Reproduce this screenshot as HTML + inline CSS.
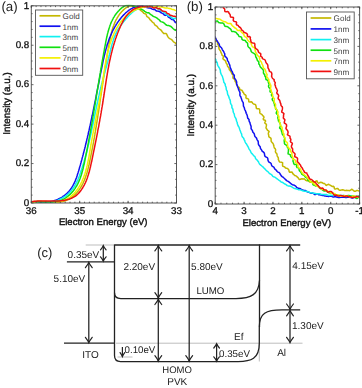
<!DOCTYPE html>
<html><head><meta charset="utf-8"><title>Figure</title>
<style>html,body{margin:0;padding:0;background:#fff;}body{width:362px;height:388px;overflow:hidden;font-family:"Liberation Sans", sans-serif;}svg{display:block;filter:blur(0.3px);}</style>
</head><body>
<svg text-rendering="geometricPrecision" width="362" height="388" viewBox="0 0 362 388" font-family='"Liberation Sans", sans-serif'><clipPath id="ca"><rect x="31.3" y="4.8" width="145.2" height="198.2"/></clipPath>
<g clip-path="url(#ca)" fill="none" stroke-width="1.5" stroke-linejoin="round" stroke-linecap="round">
<polyline points="31.5,202.0 32.5,201.8 33.5,201.6 34.5,201.5 35.5,201.4 36.5,201.3 37.5,201.3 38.5,201.2 39.5,201.3 40.5,201.3 41.5,201.3 42.5,201.4 43.5,201.4 44.5,201.5 45.5,201.5 46.5,201.6 47.5,201.7 48.5,201.7 49.5,201.8 50.5,201.9 51.5,201.9 52.5,202.0 53.5,202.0 54.5,202.0 55.5,202.0 56.5,202.0 57.5,202.0 58.5,201.9 59.5,201.8 60.5,201.7 61.5,201.6 62.5,201.4 63.5,201.2 64.5,200.9 65.4,200.7 66.4,200.3 67.3,199.9 68.2,199.5 69.1,199.0 70.0,198.5 70.8,198.0 71.6,197.4 72.4,196.8 73.2,196.2 74.0,195.5 74.7,194.9 75.4,194.2 76.1,193.4 76.8,192.7 77.4,191.9 78.1,191.1 78.7,190.4 79.3,189.5 79.9,188.7 80.4,187.9 80.9,187.0 81.5,186.2 81.9,185.3 82.4,184.4 82.9,183.5 83.3,182.6 83.7,181.7 84.1,180.8 84.5,179.9 84.9,178.9 85.2,178.0 85.6,177.0 85.9,176.1 86.2,175.1 86.5,174.2 86.8,173.2 87.1,172.3 87.4,171.3 87.6,170.3 87.9,169.4 88.1,168.4 88.4,167.4 88.6,166.4 88.8,165.5 89.1,164.5 89.3,163.5 89.5,162.5 89.7,161.5 89.9,160.5 90.1,159.6 90.3,158.6 90.5,157.6 90.7,156.6 90.9,155.6 91.1,154.6 91.3,153.7 91.5,152.7 91.7,151.7 91.9,150.7 92.1,149.7 92.3,148.7 92.5,147.8 92.6,146.8 92.8,145.8 93.0,144.8 93.2,143.8 93.4,142.8 93.6,141.8 93.7,140.8 93.9,139.9 94.1,138.9 94.3,137.9 94.4,136.9 94.6,135.9 94.8,134.9 94.9,133.9 95.1,132.9 95.3,131.9 95.4,131.0 95.6,130.0 95.8,129.0 95.9,128.0 96.1,127.0 96.3,126.0 96.4,125.0 96.6,124.0 96.7,123.0 96.9,122.0 97.1,121.0 97.2,120.1 97.4,119.1 97.5,118.1 97.7,117.1 97.8,116.1 98.0,115.1 98.1,114.1 98.3,113.1 98.5,112.1 98.6,111.1 98.8,110.1 98.9,109.1 99.1,108.2 99.2,107.2 99.4,106.2 99.5,105.2 99.7,104.2 99.8,103.2 99.9,102.2 100.1,101.2 100.2,100.2 100.4,99.2 100.5,98.2 100.7,97.2 100.8,96.2 101.0,95.2 101.1,94.3 101.3,93.3 101.4,92.3 101.6,91.3 101.7,90.3 101.9,89.3 102.0,88.3 102.2,87.3 102.3,86.3 102.5,85.3 102.6,84.3 102.8,83.3 102.9,82.3 103.1,81.4 103.2,80.4 103.4,79.4 103.5,78.4 103.7,77.4 103.8,76.4 104.0,75.4 104.1,74.4 104.3,73.4 104.4,72.4 104.6,71.4 104.7,70.4 104.9,69.4 105.0,68.5 105.2,67.5 105.3,66.5 105.5,65.5 105.7,64.5 105.8,63.5 106.0,62.5 106.1,61.5 106.3,60.5 106.5,59.5 106.6,58.5 106.8,57.6 106.9,56.6 107.1,55.6 107.3,54.6 107.4,53.6 107.6,52.6 107.8,51.6 107.9,50.6 108.1,49.6 108.3,48.6 108.5,47.7 108.6,46.7 108.8,45.7 109.0,44.7 109.2,43.7 109.3,42.7 109.5,41.7 109.7,40.7 109.9,39.8 110.1,38.8 110.3,37.8 110.5,36.8 110.7,35.8 110.9,34.8 111.2,33.9 111.4,32.9 111.7,31.9 111.9,31.0 112.2,30.0 112.5,29.0 112.8,28.1 113.1,27.1 113.4,26.2 113.8,25.2 114.1,24.3 114.5,23.4 114.9,22.4 115.3,21.5 115.7,20.6 116.2,19.7 116.7,18.8 117.1,18.0 117.7,17.1 118.2,16.2 118.8,15.4 119.3,14.6 119.9,13.8 120.6,13.0 121.2,12.2 121.9,11.5 122.6,10.8 123.3,10.1 124.0,9.4 124.8,8.7 125.6,8.1 126.4,7.5 127.3,7.0 128.2,6.6 129.1,6.3 130.1,6.1 131.1,6.0 132.1,6.1 133.1,6.3 134.1,6.6 135.0,6.9 135.9,7.4 136.8,7.8 137.7,8.3 138.5,8.8 139.4,9.4 140.2,9.9 141.0,10.6 141.7,11.2 142.6,11.8 143.2,12.6 143.9,13.4 144.9,13.7 145.9,14.2 146.4,15.1 146.7,16.2 147.4,16.9 148.3,17.4 149.1,18.1 149.6,19.0 150.2,19.8 151.0,20.4 151.7,21.2 152.3,22.0 153.1,22.6 154.0,23.1 154.4,24.1 154.9,25.0 155.8,25.5 156.7,26.1 157.4,26.8 157.9,27.7 158.6,28.4 159.4,29.0 160.3,29.6 161.1,30.2 161.7,31.0 162.3,31.9 162.9,32.6 163.6,33.4 164.8,33.6 166.1,33.6 166.8,34.3 167.2,35.4 167.7,36.4 168.2,37.2 168.9,38.0 169.7,38.6 170.7,39.0 171.6,39.6 172.2,40.3 172.9,41.1 173.5,41.9 174.4,42.4 175.3,42.9 176.0,43.7 176.6,44.4" stroke="#c4b800"/>
<polyline points="31.5,202.0 32.5,202.1 33.5,202.2 34.5,202.3 35.5,202.4 36.5,202.5 37.5,202.6 38.5,202.7 39.5,202.7 40.5,202.7 41.5,202.7 42.5,202.7 43.5,202.7 44.5,202.6 45.5,202.5 46.5,202.4 47.5,202.3 48.5,202.1 49.5,202.0 50.5,201.8 51.5,201.5 52.5,201.3 53.4,201.0 54.4,200.7 55.3,200.3 56.3,200.0 57.2,199.6 58.1,199.2 59.0,198.7 59.9,198.3 60.8,197.8 61.7,197.3 62.5,196.8 63.3,196.2 64.2,195.6 65.0,195.0 65.8,194.4 66.5,193.7 67.3,193.1 68.0,192.3 68.7,191.6 69.3,190.9 70.0,190.1 70.6,189.3 71.2,188.5 71.7,187.6 72.2,186.8 72.8,185.9 73.2,185.0 73.7,184.1 74.2,183.2 74.6,182.3 75.0,181.4 75.4,180.5 75.7,179.5 76.1,178.6 76.5,177.7 76.8,176.7 77.1,175.8 77.4,174.8 77.7,173.8 78.0,172.9 78.3,171.9 78.6,171.0 78.9,170.0 79.2,169.0 79.5,168.1 79.7,167.1 80.0,166.1 80.3,165.2 80.6,164.2 80.8,163.2 81.1,162.3 81.4,161.3 81.6,160.3 81.9,159.4 82.1,158.4 82.4,157.4 82.7,156.4 82.9,155.5 83.2,154.5 83.4,153.5 83.7,152.6 83.9,151.6 84.2,150.6 84.4,149.6 84.7,148.7 84.9,147.7 85.2,146.7 85.4,145.7 85.6,144.8 85.9,143.8 86.1,142.8 86.4,141.8 86.6,140.8 86.8,139.9 87.0,138.9 87.3,137.9 87.5,136.9 87.7,135.9 88.0,135.0 88.2,134.0 88.4,133.0 88.6,132.0 88.9,131.0 89.1,130.1 89.3,129.1 89.5,128.1 89.7,127.1 89.9,126.1 90.2,125.2 90.4,124.2 90.6,123.2 90.8,122.2 91.0,121.2 91.2,120.2 91.4,119.3 91.6,118.3 91.8,117.3 92.0,116.3 92.3,115.3 92.5,114.3 92.7,113.4 92.9,112.4 93.1,111.4 93.3,110.4 93.5,109.4 93.7,108.4 93.9,107.5 94.1,106.5 94.3,105.5 94.5,104.5 94.7,103.5 94.9,102.5 95.1,101.5 95.3,100.6 95.5,99.6 95.7,98.6 95.9,97.6 96.1,96.6 96.2,95.6 96.4,94.6 96.6,93.7 96.8,92.7 97.0,91.7 97.2,90.7 97.4,89.7 97.6,88.7 97.8,87.7 98.0,86.7 98.2,85.8 98.4,84.8 98.6,83.8 98.8,82.8 99.0,81.8 99.2,80.8 99.4,79.8 99.5,78.9 99.7,77.9 99.9,76.9 100.1,75.9 100.3,74.9 100.5,73.9 100.7,72.9 100.9,72.0 101.1,71.0 101.3,70.0 101.5,69.0 101.7,68.0 101.9,67.0 102.1,66.0 102.3,65.1 102.5,64.1 102.7,63.1 102.9,62.1 103.1,61.1 103.3,60.1 103.5,59.2 103.8,58.2 104.0,57.2 104.2,56.2 104.4,55.2 104.7,54.3 104.9,53.3 105.2,52.3 105.4,51.3 105.7,50.4 105.9,49.4 106.2,48.4 106.5,47.5 106.8,46.5 107.0,45.5 107.3,44.6 107.6,43.6 108.0,42.6 108.3,41.7 108.6,40.7 108.9,39.8 109.3,38.9 109.6,37.9 110.0,37.0 110.4,36.0 110.8,35.1 111.2,34.2 111.6,33.3 112.0,32.4 112.4,31.5 112.9,30.5 113.3,29.7 113.8,28.8 114.3,27.9 114.8,27.0 115.3,26.1 115.8,25.3 116.3,24.4 116.9,23.6 117.4,22.7 118.0,21.9 118.6,21.1 119.2,20.3 119.8,19.5 120.4,18.7 121.0,17.9 121.7,17.1 122.3,16.4 123.0,15.6 123.7,14.9 124.4,14.2 125.1,13.5 125.8,12.8 126.6,12.1 127.4,11.5 128.2,10.8 129.0,10.2 129.8,9.7 130.6,9.1 131.5,8.6 132.4,8.2 133.3,7.7 134.2,7.4 135.2,7.0 136.2,6.8 137.1,6.6 138.1,6.4 139.1,6.3 140.1,6.3 141.1,6.2 142.2,6.2 143.1,6.4 144.1,6.6 145.1,6.8 146.1,7.2 147.0,7.5 147.9,7.8 148.9,7.9 150.0,7.9 150.9,8.3 151.8,8.9 152.7,9.2 153.7,9.4 154.7,9.6 155.6,10.2 156.3,10.9 157.3,11.1 158.4,11.2 159.4,11.5 160.3,12.0 161.0,12.7 161.9,13.1 162.9,13.5 163.6,14.2 164.3,15.0 165.2,15.4 166.6,15.0 167.6,15.5 168.0,16.7 168.8,17.3 169.7,17.7 170.5,18.3 171.2,19.1 172.1,19.6 173.2,19.7 174.0,20.3 174.5,21.4 175.2,22.3 176.1,22.7" stroke="#1010f0"/>
<polyline points="31.5,201.9 32.5,202.2 33.5,202.4 34.4,202.6 35.4,202.8 36.4,202.9 37.4,203.0 38.4,203.1 39.4,203.2 40.4,203.2 41.4,203.3 42.4,203.3 43.4,203.2 44.4,203.2 45.4,203.1 46.4,203.0 47.4,202.9 48.4,202.7 49.4,202.6 50.4,202.4 51.4,202.2 52.4,201.9 53.3,201.7 54.3,201.4 55.3,201.1 56.2,200.8 57.1,200.4 58.1,200.1 59.0,199.7 59.9,199.3 60.8,198.8 61.7,198.4 62.6,197.9 63.5,197.4 64.3,196.8 65.1,196.3 66.0,195.7 66.7,195.1 67.5,194.4 68.3,193.8 69.0,193.1 69.7,192.4 70.4,191.7 71.1,190.9 71.7,190.1 72.3,189.3 72.9,188.5 73.5,187.7 74.1,186.9 74.6,186.0 75.1,185.1 75.6,184.3 76.0,183.4 76.5,182.5 76.9,181.6 77.4,180.7 77.8,179.8 78.2,178.8 78.5,177.9 78.9,177.0 79.3,176.0 79.6,175.1 80.0,174.1 80.3,173.2 80.6,172.3 80.9,171.3 81.3,170.4 81.6,169.4 81.9,168.4 82.2,167.5 82.5,166.5 82.8,165.6 83.1,164.6 83.4,163.6 83.7,162.7 84.0,161.7 84.2,160.8 84.5,159.8 84.8,158.8 85.1,157.9 85.3,156.9 85.6,155.9 85.8,155.0 86.1,154.0 86.4,153.0 86.6,152.0 86.9,151.1 87.1,150.1 87.4,149.1 87.6,148.2 87.8,147.2 88.1,146.2 88.3,145.2 88.6,144.3 88.8,143.3 89.0,142.3 89.2,141.3 89.5,140.3 89.7,139.4 89.9,138.4 90.1,137.4 90.3,136.4 90.6,135.4 90.8,134.5 91.0,133.5 91.2,132.5 91.4,131.5 91.6,130.5 91.8,129.6 92.0,128.6 92.3,127.6 92.5,126.6 92.7,125.6 92.9,124.6 93.1,123.7 93.3,122.7 93.5,121.7 93.7,120.7 93.9,119.7 94.1,118.7 94.3,117.8 94.5,116.8 94.7,115.8 94.9,114.8 95.1,113.8 95.3,112.8 95.5,111.9 95.7,110.9 95.9,109.9 96.1,108.9 96.3,107.9 96.5,106.9 96.7,106.0 96.9,105.0 97.1,104.0 97.3,103.0 97.6,102.0 97.8,101.1 98.0,100.1 98.2,99.1 98.4,98.1 98.6,97.1 98.8,96.2 99.1,95.2 99.3,94.2 99.5,93.2 99.7,92.2 99.9,91.3 100.2,90.3 100.4,89.3 100.6,88.3 100.9,87.3 101.1,86.4 101.3,85.4 101.6,84.4 101.8,83.4 102.1,82.5 102.3,81.5 102.6,80.5 102.8,79.6 103.1,78.6 103.3,77.6 103.6,76.7 103.9,75.7 104.1,74.7 104.4,73.7 104.7,72.8 104.9,71.8 105.2,70.8 105.5,69.9 105.7,68.9 106.0,67.9 106.3,67.0 106.6,66.0 106.8,65.0 107.1,64.1 107.3,63.1 107.6,62.1 107.9,61.2 108.1,60.2 108.3,59.2 108.6,58.2 108.8,57.3 109.0,56.3 109.3,55.3 109.5,54.3 109.7,53.4 110.0,52.4 110.2,51.4 110.4,50.4 110.7,49.5 110.9,48.5 111.2,47.5 111.4,46.5 111.7,45.6 111.9,44.6 112.2,43.6 112.5,42.7 112.8,41.7 113.1,40.8 113.4,39.8 113.7,38.8 114.1,37.9 114.4,37.0 114.8,36.0 115.2,35.1 115.6,34.2 116.0,33.3 116.5,32.4 116.9,31.5 117.4,30.6 117.9,29.7 118.4,28.9 119.0,28.0 119.5,27.2 120.1,26.4 120.7,25.5 121.3,24.7 121.9,23.9 122.5,23.1 123.1,22.4 123.7,21.6 124.4,20.8 125.0,20.0 125.6,19.2 126.3,18.5 127.0,17.7 127.6,17.0 128.3,16.2 129.0,15.5 129.7,14.8 130.4,14.1 131.1,13.4 131.9,12.7 132.6,12.1 133.4,11.4 134.2,10.8 135.1,10.3 135.9,9.8 136.8,9.3 137.7,8.8 138.6,8.4 139.6,8.1 140.5,7.7 141.4,7.4 142.4,7.1 143.4,6.9 144.4,6.7 145.4,6.7 146.4,6.6 147.4,6.8 148.4,6.9 149.4,6.5 150.5,6.1 151.5,6.2 152.5,6.7 153.4,7.2 154.4,7.2 155.4,7.6 156.3,8.0 157.3,8.3 158.2,8.7 159.0,9.4 159.8,10.0 160.7,10.4 161.5,11.0 162.5,11.4 163.3,11.9 164.1,12.5 165.0,13.1 165.8,13.7 166.5,14.4 167.2,15.2 168.1,15.7 169.0,16.1 169.9,16.5 170.9,16.8 171.7,17.6 172.4,18.4 173.5,18.5 174.6,18.3 175.6,18.4 176.6,18.7" stroke="#10f0f0"/>
<polyline points="31.5,202.0 32.5,201.9 33.5,201.8 34.5,201.7 35.5,201.7 36.5,201.7 37.5,201.7 38.5,201.7 39.5,201.7 40.5,201.8 41.5,201.8 42.5,201.8 43.5,201.9 44.5,201.9 45.5,202.0 46.5,202.0 47.5,202.0 48.5,202.0 49.6,202.0 50.6,202.0 51.6,202.0 52.6,201.9 53.6,201.8 54.6,201.7 55.6,201.6 56.5,201.4 57.5,201.2 58.5,201.0 59.5,200.8 60.4,200.4 61.4,200.1 62.3,199.7 63.2,199.3 64.1,198.8 65.0,198.3 65.8,197.8 66.6,197.2 67.5,196.6 68.2,196.0 69.0,195.3 69.8,194.7 70.5,194.0 71.2,193.3 71.9,192.5 72.5,191.8 73.2,191.0 73.8,190.2 74.4,189.4 75.0,188.6 75.5,187.7 76.0,186.9 76.6,186.0 77.1,185.2 77.5,184.3 78.0,183.4 78.4,182.5 78.8,181.6 79.2,180.6 79.6,179.7 80.0,178.8 80.3,177.8 80.7,176.9 81.0,175.9 81.3,175.0 81.6,174.0 81.9,173.1 82.1,172.1 82.4,171.1 82.7,170.2 82.9,169.2 83.2,168.2 83.4,167.2 83.6,166.2 83.8,165.3 84.1,164.3 84.3,163.3 84.5,162.3 84.7,161.3 84.9,160.4 85.1,159.4 85.3,158.4 85.5,157.4 85.7,156.4 85.9,155.4 86.1,154.5 86.3,153.5 86.5,152.5 86.7,151.5 86.9,150.5 87.1,149.5 87.3,148.6 87.4,147.6 87.6,146.6 87.8,145.6 88.0,144.6 88.2,143.6 88.4,142.6 88.6,141.6 88.7,140.7 88.9,139.7 89.1,138.7 89.3,137.7 89.5,136.7 89.7,135.7 89.8,134.7 90.0,133.7 90.2,132.8 90.4,131.8 90.5,130.8 90.7,129.8 90.9,128.8 91.1,127.8 91.2,126.8 91.4,125.8 91.6,124.9 91.8,123.9 91.9,122.9 92.1,121.9 92.3,120.9 92.4,119.9 92.6,118.9 92.8,117.9 92.9,116.9 93.1,115.9 93.3,115.0 93.5,114.0 93.6,113.0 93.8,112.0 93.9,111.0 94.1,110.0 94.3,109.0 94.4,108.0 94.6,107.0 94.8,106.0 94.9,105.1 95.1,104.1 95.3,103.1 95.4,102.1 95.6,101.1 95.8,100.1 95.9,99.1 96.1,98.1 96.3,97.1 96.4,96.1 96.6,95.2 96.7,94.2 96.9,93.2 97.1,92.2 97.2,91.2 97.4,90.2 97.6,89.2 97.7,88.2 97.9,87.2 98.0,86.2 98.2,85.2 98.4,84.3 98.5,83.3 98.7,82.3 98.9,81.3 99.0,80.3 99.2,79.3 99.4,78.3 99.5,77.3 99.7,76.3 99.9,75.3 100.0,74.4 100.2,73.4 100.4,72.4 100.5,71.4 100.7,70.4 100.9,69.4 101.0,68.4 101.2,67.4 101.4,66.4 101.6,65.5 101.7,64.5 101.9,63.5 102.1,62.5 102.2,61.5 102.4,60.5 102.6,59.5 102.8,58.5 102.9,57.5 103.1,56.6 103.3,55.6 103.5,54.6 103.6,53.6 103.8,52.6 104.0,51.6 104.2,50.6 104.4,49.6 104.5,48.7 104.7,47.7 104.9,46.7 105.1,45.7 105.3,44.7 105.5,43.7 105.7,42.7 105.8,41.7 106.0,40.8 106.2,39.8 106.4,38.8 106.6,37.8 106.9,36.8 107.1,35.9 107.3,34.9 107.5,33.9 107.8,32.9 108.0,32.0 108.3,31.0 108.6,30.0 108.9,29.1 109.2,28.1 109.5,27.1 109.8,26.2 110.1,25.2 110.5,24.3 110.8,23.4 111.2,22.4 111.6,21.5 112.1,20.6 112.5,19.7 113.0,18.8 113.4,17.9 114.0,17.1 114.5,16.2 115.0,15.4 115.6,14.5 116.2,13.7 116.8,12.9 117.4,12.2 118.1,11.4 118.8,10.7 119.5,9.9 120.2,9.2 120.9,8.6 121.7,7.9 122.5,7.3 123.3,6.8 124.2,6.3 125.1,5.9 126.1,5.5 127.0,5.3 128.0,5.2 129.0,5.1 130.0,5.2 131.0,5.3 132.0,5.5 133.0,5.7 134.0,6.0 134.9,6.3 135.8,6.7 136.8,7.1 137.7,7.5 138.6,8.0 139.5,8.4 140.4,8.8 141.3,9.2 142.2,9.7 143.1,10.2 143.9,10.7 144.7,11.3 145.6,11.8 146.4,12.4 147.4,12.8 148.6,12.7 149.4,13.3 150.1,14.1 150.9,14.7 151.8,15.2 152.6,15.8 153.4,16.4 154.3,16.8 155.3,17.1 156.2,17.6 157.0,18.1 157.8,18.8 158.6,19.4 159.4,20.0 160.0,20.9 160.8,21.6 161.8,21.9 162.8,22.2 163.6,22.7 164.5,23.3 165.2,24.1 165.9,24.8 166.8,25.2 167.9,25.5 168.9,25.6 169.9,26.0 170.8,26.4 171.6,27.1 172.3,27.8 173.0,28.5 173.8,29.2 174.6,29.8 175.5,30.3 176.5,30.6" stroke="#10e010"/>
<polyline points="31.5,202.0 32.4,202.3 33.4,202.5 34.4,202.8 35.3,203.0 36.3,203.2 37.3,203.4 38.3,203.6 39.3,203.7 40.3,203.8 41.3,203.9 42.3,204.0 43.3,204.1 44.3,204.1 45.3,204.1 46.3,204.1 47.3,204.1 48.3,204.1 49.3,204.0 50.3,203.9 51.3,203.8 52.3,203.7 53.3,203.6 54.3,203.4 55.3,203.2 56.3,203.0 57.2,202.8 58.2,202.5 59.2,202.2 60.1,201.9 61.1,201.6 62.0,201.3 63.0,200.9 63.9,200.5 64.8,200.1 65.7,199.6 66.6,199.1 67.5,198.6 68.3,198.1 69.1,197.6 70.0,197.0 70.8,196.4 71.5,195.7 72.3,195.1 73.0,194.4 73.7,193.7 74.4,192.9 75.1,192.2 75.7,191.4 76.4,190.6 77.0,189.8 77.6,189.0 78.1,188.2 78.7,187.4 79.2,186.5 79.7,185.6 80.2,184.8 80.7,183.9 81.1,183.0 81.6,182.1 82.0,181.2 82.4,180.2 82.8,179.3 83.2,178.4 83.6,177.5 83.9,176.5 84.3,175.6 84.6,174.6 84.9,173.7 85.2,172.7 85.5,171.8 85.8,170.8 86.1,169.8 86.3,168.9 86.6,167.9 86.8,166.9 87.1,165.9 87.3,165.0 87.5,164.0 87.7,163.0 87.9,162.0 88.1,161.0 88.3,160.0 88.5,159.1 88.7,158.1 88.9,157.1 89.1,156.1 89.2,155.1 89.4,154.1 89.6,153.1 89.7,152.1 89.9,151.1 90.1,150.2 90.2,149.2 90.4,148.2 90.6,147.2 90.7,146.2 90.9,145.2 91.1,144.2 91.2,143.2 91.4,142.2 91.6,141.2 91.8,140.3 91.9,139.3 92.1,138.3 92.3,137.3 92.5,136.3 92.7,135.3 92.8,134.3 93.0,133.3 93.2,132.4 93.4,131.4 93.6,130.4 93.8,129.4 94.0,128.4 94.2,127.4 94.4,126.4 94.6,125.5 94.8,124.5 95.0,123.5 95.2,122.5 95.3,121.5 95.5,120.5 95.7,119.5 95.9,118.6 96.1,117.6 96.3,116.6 96.5,115.6 96.7,114.6 96.9,113.6 97.1,112.6 97.3,111.7 97.5,110.7 97.7,109.7 97.9,108.7 98.1,107.7 98.3,106.7 98.5,105.7 98.7,104.8 98.9,103.8 99.0,102.8 99.2,101.8 99.4,100.8 99.6,99.8 99.8,98.8 100.0,97.9 100.2,96.9 100.3,95.9 100.5,94.9 100.7,93.9 100.9,92.9 101.0,91.9 101.2,90.9 101.4,89.9 101.5,88.9 101.7,88.0 101.9,87.0 102.0,86.0 102.2,85.0 102.3,84.0 102.5,83.0 102.6,82.0 102.8,81.0 102.9,80.0 103.1,79.0 103.2,78.0 103.4,77.0 103.5,76.0 103.7,75.0 103.8,74.1 103.9,73.1 104.1,72.1 104.2,71.1 104.4,70.1 104.6,69.1 104.7,68.1 104.9,67.1 105.0,66.1 105.2,65.1 105.4,64.1 105.5,63.1 105.7,62.2 105.9,61.2 106.1,60.2 106.3,59.2 106.5,58.2 106.7,57.2 106.9,56.2 107.1,55.3 107.3,54.3 107.5,53.3 107.7,52.3 108.0,51.3 108.2,50.4 108.5,49.4 108.7,48.4 109.0,47.5 109.3,46.5 109.5,45.5 109.8,44.6 110.1,43.6 110.4,42.6 110.8,41.7 111.1,40.7 111.4,39.8 111.8,38.9 112.1,37.9 112.5,37.0 112.9,36.1 113.3,35.1 113.7,34.2 114.1,33.3 114.5,32.4 115.0,31.5 115.4,30.6 115.9,29.7 116.3,28.8 116.8,27.9 117.3,27.1 117.9,26.2 118.4,25.3 118.9,24.5 119.5,23.7 120.1,22.8 120.7,22.0 121.3,21.2 121.9,20.5 122.5,19.7 123.2,18.9 123.9,18.2 124.6,17.5 125.3,16.8 126.0,16.1 126.8,15.4 127.5,14.8 128.3,14.1 129.1,13.5 130.0,13.0 130.8,12.4 131.6,11.9 132.5,11.4 133.4,10.9 134.3,10.4 135.2,10.0 136.1,9.6 137.0,9.2 138.0,8.9 138.9,8.5 139.9,8.1 140.8,7.8 141.8,7.5 142.8,7.3 143.8,7.2 144.8,7.0 145.7,6.7 146.7,6.5 147.7,6.5 148.7,6.2 149.7,6.2 150.8,6.5 151.8,6.8 152.8,6.9 153.8,6.9 154.8,6.8 155.8,6.8 156.8,6.5 157.8,6.5 158.8,6.8 159.8,6.9 160.8,7.0 161.8,7.1 162.8,7.2 163.7,7.5 164.7,7.9 165.7,8.0 166.7,7.9 167.7,8.1 168.7,8.4 169.7,8.5 170.7,8.7 171.6,9.2 172.6,9.4 173.6,9.6 174.5,10.0 175.4,10.4 176.4,10.7" stroke="#f4f000"/>
<polyline points="31.5,201.7 32.5,201.6 33.5,201.4 34.5,201.3 35.5,201.2 36.5,201.2 37.5,201.1 38.6,201.1 39.6,201.0 40.6,201.0 41.6,201.0 42.6,201.0 43.6,201.0 44.6,201.0 45.6,201.0 46.6,201.0 47.6,201.1 48.6,201.1 49.6,201.1 50.6,201.1 51.6,201.1 52.6,201.1 53.6,201.1 54.7,201.1 55.7,201.1 56.7,201.0 57.7,201.0 58.7,200.9 59.7,200.9 60.7,200.8 61.7,200.7 62.7,200.5 63.7,200.4 64.7,200.2 65.7,200.0 66.6,199.8 67.6,199.5 68.6,199.3 69.5,199.0 70.5,198.6 71.4,198.3 72.3,197.8 73.2,197.4 74.1,196.9 75.0,196.4 75.8,195.8 76.6,195.2 77.3,194.5 78.1,193.8 78.8,193.1 79.4,192.3 80.1,191.6 80.7,190.8 81.3,189.9 81.8,189.1 82.4,188.3 82.9,187.4 83.4,186.5 83.9,185.7 84.4,184.8 84.8,183.9 85.3,183.0 85.7,182.0 86.1,181.1 86.5,180.2 86.8,179.2 87.2,178.3 87.5,177.4 87.8,176.4 88.1,175.4 88.4,174.5 88.7,173.5 89.0,172.6 89.3,171.6 89.5,170.6 89.8,169.6 90.0,168.7 90.2,167.7 90.5,166.7 90.7,165.7 90.9,164.7 91.1,163.8 91.3,162.8 91.6,161.8 91.8,160.8 92.0,159.8 92.2,158.8 92.4,157.8 92.6,156.9 92.8,155.9 93.0,154.9 93.2,153.9 93.4,152.9 93.6,151.9 93.8,150.9 94.0,150.0 94.2,149.0 94.4,148.0 94.6,147.0 94.8,146.0 95.0,145.0 95.2,144.0 95.4,143.1 95.6,142.1 95.8,141.1 96.0,140.1 96.2,139.1 96.4,138.1 96.6,137.1 96.8,136.1 97.0,135.2 97.2,134.2 97.4,133.2 97.6,132.2 97.7,131.2 97.9,130.2 98.1,129.2 98.3,128.2 98.5,127.3 98.7,126.3 98.9,125.3 99.0,124.3 99.2,123.3 99.4,122.3 99.6,121.3 99.8,120.3 99.9,119.3 100.1,118.3 100.3,117.4 100.5,116.4 100.7,115.4 100.8,114.4 101.0,113.4 101.2,112.4 101.3,111.4 101.5,110.4 101.7,109.4 101.8,108.4 102.0,107.4 102.2,106.4 102.3,105.5 102.5,104.5 102.7,103.5 102.8,102.5 103.0,101.5 103.1,100.5 103.3,99.5 103.4,98.5 103.6,97.5 103.8,96.5 103.9,95.5 104.1,94.5 104.2,93.5 104.4,92.5 104.5,91.5 104.7,90.5 104.8,89.5 105.0,88.5 105.1,87.6 105.3,86.6 105.4,85.6 105.6,84.6 105.7,83.6 105.9,82.6 106.0,81.6 106.2,80.6 106.3,79.6 106.5,78.6 106.7,77.6 106.8,76.6 107.0,75.6 107.2,74.6 107.3,73.6 107.5,72.6 107.7,71.7 107.8,70.7 108.0,69.7 108.2,68.7 108.4,67.7 108.6,66.7 108.8,65.7 108.9,64.7 109.1,63.7 109.3,62.8 109.5,61.8 109.7,60.8 110.0,59.8 110.2,58.8 110.4,57.8 110.6,56.9 110.8,55.9 111.1,54.9 111.3,53.9 111.5,52.9 111.8,52.0 112.0,51.0 112.3,50.0 112.5,49.0 112.8,48.1 113.1,47.1 113.3,46.1 113.6,45.2 113.9,44.2 114.2,43.2 114.5,42.3 114.8,41.3 115.1,40.4 115.4,39.4 115.7,38.4 116.1,37.5 116.4,36.5 116.7,35.6 117.1,34.7 117.4,33.7 117.8,32.8 118.2,31.8 118.5,30.9 118.9,30.0 119.3,29.0 119.7,28.1 120.1,27.2 120.5,26.3 120.9,25.3 121.4,24.4 121.8,23.5 122.3,22.6 122.7,21.8 123.2,20.9 123.7,20.0 124.2,19.1 124.8,18.3 125.3,17.5 125.9,16.6 126.5,15.8 127.2,15.0 127.8,14.3 128.5,13.5 129.2,12.8 129.9,12.1 130.7,11.5 131.5,10.8 132.3,10.2 133.1,9.7 134.0,9.2 134.9,8.7 135.8,8.3 136.7,7.9 137.7,7.6 138.6,7.3 139.6,7.0 140.6,6.8 141.6,6.5 142.6,6.4 143.6,6.6 144.6,6.7 145.6,6.6 146.6,6.6 147.6,6.9 148.6,6.8 149.6,6.5 150.6,6.6 151.6,6.9 152.6,7.4 153.5,7.9 154.4,8.1 155.6,7.6 156.7,7.6 157.4,8.6 158.4,8.8 159.5,8.6 160.4,9.1 161.2,9.9 161.9,10.7 162.8,11.2 163.8,11.3 164.8,11.6 165.9,11.8 166.6,12.6 167.2,13.6 168.3,13.7 169.2,14.1 169.8,15.0 170.7,15.5 171.8,15.6 172.7,16.0 173.7,16.3 174.9,16.2 175.7,16.6 176.5,17.5" stroke="#f01010"/>
</g>
<rect x="31.3" y="5.8" width="145.2" height="197.2" fill="none" stroke="#555" stroke-width="1"/>
<path d="M31.30,203.0 v-1.3 M31.30,5.8 v1.3 M36.14,203.0 v-1.3 M36.14,5.8 v1.3 M40.98,203.0 v-1.3 M40.98,5.8 v1.3 M45.82,203.0 v-1.3 M45.82,5.8 v1.3 M50.66,203.0 v-1.3 M50.66,5.8 v1.3 M55.50,203.0 v-1.3 M55.50,5.8 v1.3 M60.34,203.0 v-1.3 M60.34,5.8 v1.3 M65.18,203.0 v-1.3 M65.18,5.8 v1.3 M70.02,203.0 v-1.3 M70.02,5.8 v1.3 M74.86,203.0 v-1.3 M74.86,5.8 v1.3 M79.70,203.0 v-1.3 M79.70,5.8 v1.3 M84.54,203.0 v-1.3 M84.54,5.8 v1.3 M89.38,203.0 v-1.3 M89.38,5.8 v1.3 M94.22,203.0 v-1.3 M94.22,5.8 v1.3 M99.06,203.0 v-1.3 M99.06,5.8 v1.3 M103.90,203.0 v-1.3 M103.90,5.8 v1.3 M108.74,203.0 v-1.3 M108.74,5.8 v1.3 M113.58,203.0 v-1.3 M113.58,5.8 v1.3 M118.42,203.0 v-1.3 M118.42,5.8 v1.3 M123.26,203.0 v-1.3 M123.26,5.8 v1.3 M128.10,203.0 v-1.3 M128.10,5.8 v1.3 M132.94,203.0 v-1.3 M132.94,5.8 v1.3 M137.78,203.0 v-1.3 M137.78,5.8 v1.3 M142.62,203.0 v-1.3 M142.62,5.8 v1.3 M147.46,203.0 v-1.3 M147.46,5.8 v1.3 M152.30,203.0 v-1.3 M152.30,5.8 v1.3 M157.14,203.0 v-1.3 M157.14,5.8 v1.3 M161.98,203.0 v-1.3 M161.98,5.8 v1.3 M166.82,203.0 v-1.3 M166.82,5.8 v1.3 M171.66,203.0 v-1.3 M171.66,5.8 v1.3 M176.50,203.0 v-1.3 M176.50,5.8 v1.3 M31.30,203.0 v-2.2 M31.30,5.8 v2.2 M79.70,203.0 v-2.2 M79.70,5.8 v2.2 M128.10,203.0 v-2.2 M128.10,5.8 v2.2 M176.50,203.0 v-2.2 M176.50,5.8 v2.2 M31.3,203.00 h2.2 M176.5,203.00 h-2.2 M31.3,195.11 h1.3 M176.5,195.11 h-1.3 M31.3,187.22 h1.3 M176.5,187.22 h-1.3 M31.3,179.34 h1.3 M176.5,179.34 h-1.3 M31.3,171.45 h1.3 M176.5,171.45 h-1.3 M31.3,163.56 h2.2 M176.5,163.56 h-2.2 M31.3,155.67 h1.3 M176.5,155.67 h-1.3 M31.3,147.78 h1.3 M176.5,147.78 h-1.3 M31.3,139.90 h1.3 M176.5,139.90 h-1.3 M31.3,132.01 h1.3 M176.5,132.01 h-1.3 M31.3,124.12 h2.2 M176.5,124.12 h-2.2 M31.3,116.23 h1.3 M176.5,116.23 h-1.3 M31.3,108.34 h1.3 M176.5,108.34 h-1.3 M31.3,100.46 h1.3 M176.5,100.46 h-1.3 M31.3,92.57 h1.3 M176.5,92.57 h-1.3 M31.3,84.68 h2.2 M176.5,84.68 h-2.2 M31.3,76.79 h1.3 M176.5,76.79 h-1.3 M31.3,68.90 h1.3 M176.5,68.90 h-1.3 M31.3,61.02 h1.3 M176.5,61.02 h-1.3 M31.3,53.13 h1.3 M176.5,53.13 h-1.3 M31.3,45.24 h2.2 M176.5,45.24 h-2.2 M31.3,37.35 h1.3 M176.5,37.35 h-1.3 M31.3,29.46 h1.3 M176.5,29.46 h-1.3 M31.3,21.58 h1.3 M176.5,21.58 h-1.3 M31.3,13.69 h1.3 M176.5,13.69 h-1.3 M31.3,5.80 h2.2 M176.5,5.80 h-2.2" stroke="#444" stroke-width="0.8" fill="none"/>
<rect x="35.5" y="10.0" width="47.2" height="65.3" fill="#fff" stroke="#555" stroke-width="0.9"/>
<line x1="39.5" y1="15.8" x2="60.5" y2="15.8" stroke="#c4b800" stroke-width="1.7"/>
<text x="62.6" y="19.1" font-size="8.1" fill="#444">Gold</text>
<line x1="39.5" y1="26.2" x2="60.5" y2="26.2" stroke="#1010f0" stroke-width="1.7"/>
<text x="62.6" y="29.5" font-size="8.1" fill="#444">1nm</text>
<line x1="39.5" y1="36.6" x2="60.5" y2="36.6" stroke="#10f0f0" stroke-width="1.7"/>
<text x="62.6" y="39.9" font-size="8.1" fill="#444">3nm</text>
<line x1="39.5" y1="47.3" x2="60.5" y2="47.3" stroke="#10e010" stroke-width="1.7"/>
<text x="62.6" y="50.6" font-size="8.1" fill="#444">5nm</text>
<line x1="39.5" y1="57.9" x2="60.5" y2="57.9" stroke="#f4f000" stroke-width="1.7"/>
<text x="62.6" y="61.2" font-size="8.1" fill="#444">7nm</text>
<line x1="39.5" y1="68.5" x2="60.5" y2="68.5" stroke="#f01010" stroke-width="1.7"/>
<text x="62.6" y="71.8" font-size="8.1" fill="#444">9nm</text>
<clipPath id="cb"><rect x="215.2" y="6.0" width="144.40000000000003" height="198.0"/></clipPath>
<g clip-path="url(#cb)" fill="none" stroke-width="1.5" stroke-linejoin="round" stroke-linecap="round">
<polyline points="214.5,40.1 215.1,41.0 216.4,41.4 217.6,42.0 217.6,43.1 217.5,44.3 218.4,45.0 218.9,45.8 218.8,47.0 218.9,48.0 219.1,49.0 219.7,49.9 220.4,50.7 220.7,51.6 221.0,52.6 221.5,53.5 221.9,54.4 222.1,55.4 223.2,56.0 223.6,56.9 222.9,58.4 223.3,59.3 224.3,59.9 225.2,60.6 225.8,61.5 225.9,62.5 226.4,63.4 227.1,64.2 227.3,65.2 227.6,66.2 228.2,67.0 228.9,67.8 229.2,68.8 229.3,69.8 230.1,70.5 230.7,71.4 231.2,72.2 231.6,73.1 232.1,74.1 232.9,74.7 233.2,75.7 232.9,77.0 233.0,78.1 233.8,78.8 234.6,79.5 235.0,80.5 235.2,81.5 235.8,82.3 236.3,83.2 236.4,84.3 237.0,85.1 237.6,86.0 238.1,86.8 239.1,87.4 239.6,88.3 239.7,89.4 240.6,90.0 242.0,90.3 242.5,91.1 242.9,92.1 243.6,92.8 243.9,93.8 244.6,94.5 245.6,95.0 246.1,95.9 245.9,97.4 246.3,98.4 247.5,98.6 248.5,99.1 248.7,100.3 248.8,101.7 249.9,102.0 251.5,101.7 252.2,102.4 252.7,103.3 253.5,104.0 254.6,104.2 255.5,104.6 255.9,105.8 256.2,106.9 256.3,108.1 257.0,108.8 258.7,108.7 259.6,109.3 259.7,110.4 259.9,111.5 259.7,112.7 260.3,113.6 261.4,114.1 262.2,114.8 262.7,115.7 263.7,116.4 264.0,117.4 263.2,118.8 263.5,119.7 265.1,120.2 265.6,121.1 264.8,122.5 265.1,123.4 266.2,124.1 266.5,125.0 266.3,126.2 266.0,127.3 266.2,128.3 266.9,129.2 267.4,130.1 268.4,130.8 269.1,131.6 268.4,132.9 268.3,134.0 268.7,134.9 268.7,136.0 269.0,136.9 270.1,137.6 271.0,138.4 271.1,139.4 271.1,140.5 271.3,141.5 271.9,142.3 272.7,143.1 273.3,143.9 273.5,144.9 273.9,145.9 274.0,146.9 274.3,147.9 275.1,148.6 275.6,149.5 275.6,150.6 275.4,151.7 275.8,152.7 276.6,153.4 277.0,154.3 277.1,155.4 277.4,156.4 278.1,157.2 278.4,158.2 278.3,159.4 278.7,160.3 279.1,161.3 279.7,162.1 281.4,162.2 282.6,162.6 282.6,163.8 282.5,165.2 282.8,166.2 284.0,166.6 284.9,167.2 285.5,168.0 286.7,168.2 287.6,168.7 288.4,169.3 288.9,170.2 289.1,171.5 289.7,172.3 291.2,172.0 292.3,172.2 292.6,173.4 293.3,174.1 294.0,174.8 294.8,175.6 295.8,175.7 296.6,176.4 297.4,177.1 298.2,177.8 298.8,179.0 299.6,179.6 301.0,179.0 302.1,178.8 303.1,178.9 304.2,178.8 305.0,179.5 305.8,180.4 306.8,180.7 307.9,180.5 308.8,181.0 309.6,182.0 310.6,182.1 311.7,182.0 312.7,181.9 313.8,181.7 314.8,181.9 315.9,181.2 317.0,180.8 317.7,182.5 318.6,183.3 319.8,182.5 320.8,182.3 321.8,182.5 322.7,183.0 323.6,183.6 324.7,183.6 325.5,184.6 326.3,185.4 327.5,184.7 328.7,184.3 329.5,184.9 330.5,185.3 331.3,185.9 332.1,186.5 333.4,186.2 334.1,187.0 334.4,188.7 335.3,189.1 336.7,188.6 337.8,188.5 338.5,189.5 339.4,190.2 340.5,190.2 341.6,189.9 342.6,189.7 343.6,189.9 344.5,190.5 345.5,190.6 346.6,190.3 347.6,190.4 348.6,190.4 349.6,190.7 350.6,190.2 351.6,189.2 352.6,189.7 353.6,190.8 354.6,191.2 355.6,191.2 356.6,190.6 357.6,190.4 358.6,190.9 359.6,190.9" stroke="#c4b800"/>
<polyline points="215.2,37.0 215.6,38.0 215.9,39.0 216.4,39.9 217.0,40.7 217.5,41.6 218.0,42.5 218.7,43.2 219.1,44.1 219.4,45.1 219.8,46.1 220.4,46.9 221.3,47.5 221.8,48.4 222.2,49.3 222.7,50.2 223.3,51.0 223.8,51.9 224.2,52.8 224.7,53.7 224.8,54.8 224.8,55.9 225.4,56.7 226.3,57.4 227.0,58.2 227.3,59.1 227.4,60.2 227.9,61.1 228.5,61.9 228.8,62.9 229.1,63.9 229.6,64.7 229.9,65.7 230.1,66.7 230.4,67.7 230.8,68.6 231.0,69.6 231.3,70.5 232.0,71.3 232.5,72.2 232.7,73.2 233.2,74.1 234.0,74.9 234.4,75.8 234.2,77.0 234.4,78.0 235.0,78.8 235.6,79.7 236.1,80.6 236.5,81.5 236.7,82.5 236.6,83.6 236.8,84.6 237.2,85.5 237.5,86.5 237.9,87.4 238.3,88.3 238.5,89.3 238.9,90.3 239.4,91.2 239.8,92.1 240.0,93.1 239.9,94.2 239.9,95.2 240.3,96.1 240.9,97.0 241.2,98.0 241.5,98.9 241.8,99.9 242.1,100.9 242.6,101.7 243.2,102.6 243.3,103.6 243.4,104.7 243.4,105.7 243.7,106.7 244.3,107.6 244.5,108.6 244.7,109.5 245.2,110.4 245.7,111.3 245.9,112.3 246.2,113.3 246.7,114.2 247.1,115.1 247.4,116.1 247.5,117.1 247.7,118.1 248.5,118.9 249.1,119.7 249.0,120.8 249.4,121.8 250.0,122.6 250.1,123.6 250.4,124.6 250.8,125.5 251.1,126.5 251.1,127.6 251.1,128.7 251.6,129.5 252.3,130.3 252.6,131.3 252.9,132.3 253.7,133.0 254.3,133.9 254.5,134.9 254.7,135.9 255.2,136.8 256.0,137.5 256.6,138.3 256.9,139.3 257.4,140.2 258.0,141.0 258.3,142.0 258.3,143.1 258.4,144.2 258.8,145.1 259.5,145.9 260.2,146.7 260.3,147.8 260.6,148.8 261.3,149.5 261.8,150.4 262.3,151.3 263.2,151.9 264.0,152.6 264.4,153.5 264.6,154.6 264.7,155.7 265.3,156.5 266.3,157.1 267.3,157.6 267.8,158.5 267.9,159.6 268.1,160.7 268.6,161.6 269.3,162.4 270.3,162.8 271.1,163.5 271.4,164.6 271.7,165.6 272.4,166.3 273.4,166.8 274.1,167.6 274.5,168.5 275.1,169.3 276.0,169.9 276.6,170.7 277.2,171.5 278.0,172.1 279.0,172.5 279.8,173.2 280.2,174.2 280.8,175.0 281.3,175.9 282.1,176.6 283.0,177.1 283.7,177.8 284.5,178.5 285.2,179.2 285.9,179.9 286.6,180.6 287.6,181.1 288.5,181.5 289.2,182.2 290.0,182.8 290.8,183.5 291.5,184.2 292.4,184.7 293.4,184.9 294.4,185.3 295.3,185.8 296.0,186.5 296.6,187.4 297.5,188.0 298.5,188.2 299.6,188.4 300.5,188.8 301.3,189.5 302.2,189.8 303.2,190.1 304.2,190.4 305.2,190.5 306.1,191.0 306.9,191.6 307.9,192.0 308.9,192.2 309.8,192.6 310.7,193.2 311.7,193.3 312.8,193.1 313.7,193.7 314.5,194.5 315.5,194.5 316.7,194.1 317.7,194.0 318.6,194.7 319.6,194.8 320.6,194.9 321.6,195.2 322.6,195.4 323.5,195.6 324.5,195.9 325.5,196.1 326.5,196.2 327.5,196.3 328.5,196.4 329.6,196.2 330.6,196.0 331.6,196.2 332.5,196.8 333.5,197.1 334.5,196.8 335.6,196.8 336.5,197.0 337.5,197.3 338.5,197.6 339.5,197.5 340.6,197.2 341.6,197.3 342.6,197.3 343.6,197.1 344.6,197.3 345.6,197.6 346.6,197.5 347.6,197.1 348.6,197.2 349.6,197.3 350.6,197.6 351.6,197.9 352.7,198.0 353.7,197.6 354.7,197.4 355.7,197.6 356.7,197.8 357.7,197.6 358.7,197.3 359.7,197.0" stroke="#1010f0"/>
<polyline points="215.2,58.7 215.8,59.5 216.0,60.5 216.3,61.5 217.0,62.3 217.3,63.2 217.4,64.3 217.7,65.3 218.2,66.1 218.7,67.0 219.3,67.9 219.7,68.8 220.1,69.8 220.4,70.7 220.4,71.8 220.6,72.8 221.0,73.7 221.4,74.6 221.9,75.5 222.4,76.4 222.7,77.4 223.0,78.3 223.2,79.3 223.5,80.3 223.7,81.3 223.8,82.3 224.5,83.1 225.1,84.0 225.2,85.0 225.5,86.0 225.9,86.9 226.2,87.9 226.2,88.9 226.4,89.9 227.0,90.8 227.3,91.8 227.4,92.8 227.6,93.8 227.8,94.8 228.4,95.6 228.8,96.6 229.0,97.6 229.3,98.5 229.8,99.4 230.2,100.4 230.4,101.3 230.4,102.4 230.6,103.4 231.1,104.3 231.7,105.2 231.9,106.2 231.8,107.3 232.2,108.2 232.8,109.0 233.0,110.0 233.1,111.1 233.3,112.1 233.7,113.0 234.2,113.9 234.4,114.9 234.6,115.9 234.9,116.8 235.4,117.7 235.9,118.6 236.3,119.6 236.4,120.6 236.7,121.5 237.2,122.4 237.3,123.5 237.6,124.4 237.9,125.4 238.4,126.3 239.0,127.1 239.3,128.1 239.6,129.1 239.9,130.0 240.3,130.9 240.6,131.9 241.0,132.8 241.5,133.7 241.7,134.7 241.9,135.7 242.3,136.7 243.0,137.5 243.7,138.2 244.0,139.2 244.4,140.2 244.9,141.0 245.1,142.0 245.6,142.9 246.3,143.7 246.8,144.6 247.3,145.5 247.8,146.3 248.3,147.2 248.7,148.1 249.1,149.1 249.7,149.9 250.3,150.7 250.7,151.6 251.0,152.6 251.7,153.4 252.5,154.1 253.1,154.9 253.6,155.7 254.6,156.3 255.2,157.1 255.4,158.2 255.9,159.0 256.8,159.7 257.4,160.4 258.0,161.2 258.6,162.0 259.0,163.0 259.5,164.0 260.2,164.7 261.0,165.3 261.8,166.0 262.6,166.6 263.3,167.3 264.0,168.1 264.7,168.7 265.4,169.4 266.1,170.2 266.8,170.9 267.6,171.5 268.4,172.1 269.0,172.9 269.7,173.7 270.6,174.2 271.5,174.7 272.2,175.4 272.8,176.3 273.7,176.8 274.7,177.1 275.6,177.6 276.3,178.3 277.2,178.9 278.0,179.5 278.8,180.1 279.6,180.6 280.4,181.3 281.1,182.0 282.1,182.3 283.1,182.7 283.9,183.4 284.7,184.0 285.6,184.3 286.5,184.9 287.2,185.6 288.2,185.9 289.3,186.0 290.3,186.2 291.3,186.5 292.1,187.2 292.9,187.7 293.8,188.2 294.8,188.5 295.8,188.7 296.8,189.0 297.7,189.4 298.7,189.7 299.7,189.8 300.7,189.9 301.6,190.3 302.6,190.7 303.5,191.1 304.5,191.2 305.5,191.3 306.5,191.5 307.5,191.6 308.5,191.8 309.4,192.3 310.4,192.8 311.4,192.8 312.4,192.9 313.4,193.2 314.4,193.2 315.4,193.5 316.3,193.8 317.3,193.9 318.4,193.8 319.4,193.7 320.4,194.0 321.3,194.4 322.3,194.5 323.3,194.6 324.4,194.6 325.4,194.4 326.4,194.5 327.4,194.9 328.4,195.2 329.3,195.4 330.4,195.3 331.4,195.2 332.4,195.4 333.4,195.2 334.4,194.9 335.4,194.8 336.4,194.9 337.4,195.2 338.4,195.4 339.4,195.5 340.5,195.5 341.5,195.5 342.5,195.4 343.5,195.6 344.5,196.1 345.5,196.1 346.5,195.8 347.5,195.7 348.5,195.9 349.5,195.9 350.5,195.7 351.5,195.9 352.5,196.3 353.5,196.3 354.5,196.2 355.5,196.2 356.6,196.1 357.6,196.3 358.6,196.4 359.6,196.3" stroke="#10f0f0"/>
<polyline points="214.9,21.3 215.9,21.3 217.2,20.9 218.0,21.6 218.6,22.6 219.6,22.8 220.7,23.0 221.7,23.1 222.9,23.1 223.7,23.6 224.3,24.8 224.7,26.0 225.6,26.4 226.8,26.4 227.7,26.9 228.5,27.4 229.3,28.1 230.1,28.7 230.9,29.3 231.3,30.5 231.8,31.4 233.0,31.5 234.1,31.6 235.2,32.0 236.1,32.4 236.7,33.3 237.3,34.1 238.1,34.7 238.6,35.7 239.2,36.5 240.4,36.7 241.5,37.1 241.8,38.2 242.0,39.3 242.8,39.9 244.0,40.2 245.2,40.5 245.8,41.3 246.3,42.2 247.3,42.8 247.7,43.7 247.7,45.0 247.9,46.1 248.4,47.0 249.2,47.7 250.0,48.3 250.5,49.2 250.9,50.2 251.1,51.2 251.7,52.0 252.5,52.7 253.5,53.2 254.6,53.8 255.2,54.5 255.6,55.5 255.7,56.6 256.1,57.5 256.7,58.3 257.0,59.3 257.3,60.3 258.0,61.1 258.8,61.8 258.8,62.9 258.8,64.0 259.6,64.8 259.9,65.8 260.2,66.7 260.9,67.5 261.6,68.3 262.4,69.0 263.1,69.8 263.5,70.7 263.5,71.8 263.4,73.0 263.9,73.9 264.7,74.6 264.8,75.7 265.2,76.6 265.9,77.4 265.8,78.5 266.0,79.5 267.3,80.1 268.2,80.8 268.2,81.9 268.5,82.9 269.0,83.8 268.9,84.9 268.5,86.1 268.7,87.1 269.3,87.9 270.1,88.7 270.4,89.7 270.0,90.9 270.1,91.9 271.5,92.5 272.0,93.4 271.4,94.7 271.6,95.6 272.6,96.4 272.9,97.4 272.4,98.5 272.2,99.6 272.8,100.5 273.5,101.4 273.8,102.3 274.1,103.3 274.5,104.2 274.5,105.3 275.0,106.2 275.5,107.1 275.5,108.1 275.9,109.1 276.8,109.9 277.1,110.8 276.5,112.0 276.2,113.1 276.8,114.0 277.6,114.8 278.2,115.7 278.1,116.8 277.8,117.9 278.1,118.9 278.4,119.8 278.4,120.9 279.0,121.8 279.8,122.6 280.1,123.5 280.4,124.5 280.6,125.5 280.2,126.7 279.6,127.9 280.3,128.7 281.3,129.5 281.3,130.5 281.6,131.5 282.0,132.4 282.1,133.4 282.4,134.4 283.2,135.2 283.7,136.1 284.1,137.0 284.6,137.9 284.6,139.0 284.2,140.2 284.2,141.2 284.4,142.2 284.4,143.3 284.8,144.2 285.9,144.9 287.0,145.6 287.2,146.6 287.5,147.5 288.3,148.3 288.5,149.3 288.4,150.4 288.4,151.5 288.1,152.8 288.1,153.9 289.4,154.4 290.5,155.0 290.6,156.1 291.1,157.0 292.0,157.6 292.9,158.3 293.4,159.2 293.0,160.5 293.1,161.6 293.6,162.5 293.7,163.6 294.4,164.4 296.1,164.5 296.9,165.2 296.5,166.6 297.1,167.5 298.4,167.8 299.0,168.6 299.1,169.7 299.4,170.8 300.1,171.5 300.9,172.2 301.4,173.1 301.8,174.1 302.6,174.7 303.6,175.1 304.4,175.7 305.0,176.6 305.7,177.3 306.7,177.7 307.3,178.6 307.6,179.7 308.2,180.6 309.2,180.9 310.3,181.2 311.1,181.8 311.9,182.4 312.7,183.0 312.9,184.4 313.6,185.1 314.7,185.4 315.5,186.0 316.8,185.8 318.1,185.6 318.7,186.6 319.2,187.6 320.0,188.3 320.9,188.8 321.7,189.4 322.5,190.0 323.4,190.6 324.3,191.1 325.4,191.0 326.5,191.0 327.4,191.5 328.1,192.4 329.0,192.8 330.1,192.9 331.1,193.0 332.1,193.1 333.1,193.4 334.0,193.8 334.9,194.4 335.8,194.8 336.9,194.9 337.8,195.1 338.8,195.4 339.8,195.5 340.8,195.7 341.8,196.1 342.8,195.9 343.9,195.5 344.8,196.0 345.8,196.7 346.8,196.5 347.9,195.6 348.9,195.4 349.9,196.0 350.8,196.4 351.9,196.2 352.9,196.0 353.9,196.6 354.9,197.2 355.9,198.0 357.0,198.5 358.0,197.6 358.9,196.1 359.8,195.6" stroke="#10e010"/>
<polyline points="215.3,18.5 216.3,18.6 217.4,18.7 218.3,19.0 219.4,19.1 220.3,19.4 221.2,20.1 222.0,20.6 223.0,21.1 223.8,21.6 224.8,21.8 225.9,22.0 226.7,22.7 227.5,23.3 228.5,23.5 229.6,23.5 230.7,23.6 231.5,24.4 232.0,25.5 232.8,26.1 233.6,26.8 234.3,27.5 235.1,28.0 236.0,28.5 236.7,29.2 237.2,30.2 238.3,30.5 239.8,30.3 240.6,30.9 241.1,31.8 241.9,32.5 242.6,33.2 243.4,33.8 243.9,34.7 244.2,35.9 244.9,36.6 245.8,37.1 246.6,37.8 247.0,38.7 247.5,39.6 248.1,40.5 248.8,41.2 249.6,41.8 250.5,42.4 251.1,43.2 251.3,44.3 251.7,45.3 252.1,46.2 252.8,47.0 253.9,47.4 254.7,48.1 255.0,49.1 255.1,50.2 255.3,51.3 255.7,52.2 256.2,53.1 256.7,54.0 257.2,54.8 257.7,55.7 258.7,56.3 259.4,57.1 259.5,58.2 259.7,59.2 260.0,60.1 260.5,61.0 261.2,61.8 261.6,62.7 262.0,63.7 262.4,64.6 262.9,65.5 263.0,66.5 263.2,67.5 263.9,68.3 264.8,69.1 265.3,70.0 265.6,70.9 265.9,71.9 266.1,72.9 266.7,73.8 267.2,74.6 266.8,75.9 266.7,76.9 267.6,77.7 268.2,78.6 268.8,79.4 268.8,80.5 268.9,81.5 269.5,82.4 269.8,83.4 270.2,84.3 270.8,85.2 270.9,86.2 270.7,87.3 270.5,88.4 270.7,89.4 271.1,90.3 271.4,91.3 271.6,92.3 271.9,93.3 272.5,94.1 272.7,95.1 272.5,96.2 272.7,97.2 273.7,98.0 274.4,98.8 274.3,99.9 274.1,101.0 274.2,102.0 274.7,102.9 275.3,103.8 275.6,104.8 275.5,105.8 275.3,106.9 275.4,108.0 276.1,108.8 276.7,109.7 277.2,110.6 277.8,111.5 278.0,112.5 277.7,113.6 277.8,114.6 278.3,115.5 278.9,116.4 278.9,117.5 278.7,118.6 279.3,119.4 279.6,120.4 279.3,121.5 279.7,122.5 280.2,123.4 280.3,124.4 280.4,125.4 281.1,126.3 281.9,127.1 282.2,128.0 282.1,129.1 282.4,130.1 283.0,131.0 283.0,132.0 283.1,133.0 283.9,133.8 284.0,134.9 283.8,136.0 284.4,136.9 284.9,137.8 285.1,138.8 285.2,139.8 285.3,140.8 286.0,141.7 287.0,142.3 287.5,143.2 287.5,144.3 287.6,145.3 287.7,146.4 288.2,147.3 288.9,148.1 289.7,148.9 290.4,149.6 290.5,150.7 290.7,151.7 291.5,152.4 291.9,153.4 291.9,154.5 292.0,155.5 292.6,156.4 292.7,157.4 292.6,158.6 293.5,159.3 294.8,159.7 295.4,160.6 295.4,161.7 295.8,162.7 296.6,163.3 297.5,164.0 297.9,164.9 297.9,166.1 298.1,167.2 298.8,167.9 300.0,168.4 300.6,169.1 300.9,170.2 301.3,171.1 301.7,172.0 302.2,173.0 302.8,173.7 303.7,174.3 304.5,175.0 305.3,175.6 306.1,176.3 306.8,177.0 307.3,177.9 308.0,178.6 308.8,179.3 309.4,180.0 310.0,181.0 310.6,181.7 311.6,182.1 312.4,182.7 313.3,183.3 314.1,183.9 314.8,184.6 315.6,185.2 316.5,185.8 317.3,186.2 318.2,186.8 319.1,187.2 320.1,187.5 320.8,188.4 321.6,189.1 322.6,189.2 323.7,189.4 324.6,189.8 325.4,190.4 326.4,190.6 327.3,191.1 328.2,191.6 329.2,191.7 330.1,192.2 331.0,192.8 331.9,193.2 332.9,193.3 333.9,193.4 334.9,193.7 335.7,194.4 336.7,194.9 337.7,194.8 338.7,195.2 339.5,196.0 340.6,196.2 341.6,195.9 342.6,196.0 343.7,196.1 344.7,195.7 345.7,195.8 346.7,196.1 347.7,196.1 348.7,196.4 349.7,196.9 350.7,197.1 351.7,196.7 352.7,196.1 353.7,195.9 354.7,195.9 355.8,196.3 356.8,197.0 357.8,197.1 358.8,196.6 359.8,196.2" stroke="#f4f000"/>
<polyline points="223.1,7.7 224.0,8.3 224.7,9.0 224.7,10.2 224.9,11.4 226.2,11.7 227.8,11.6 228.7,12.2 229.0,13.2 229.7,14.0 230.2,14.9 230.3,16.1 230.7,17.1 232.1,17.2 233.4,17.4 233.5,18.7 233.2,20.2 233.7,21.1 234.8,21.5 236.1,21.8 236.6,22.7 236.3,24.2 236.9,25.0 238.1,25.4 238.6,26.2 239.3,27.0 240.2,27.5 240.9,28.3 241.3,29.2 241.8,30.1 242.8,30.6 243.4,31.4 243.9,32.3 245.1,32.7 246.1,33.1 246.9,33.7 247.5,34.5 247.4,35.9 248.1,36.7 249.8,36.6 250.4,37.5 250.2,38.9 250.7,39.8 250.8,41.0 251.1,42.0 251.9,42.7 253.1,43.0 254.5,43.3 254.9,44.2 254.8,45.5 255.0,46.6 255.2,47.7 255.8,48.5 256.7,49.2 257.5,49.8 258.1,50.6 258.3,51.7 258.9,52.5 259.8,53.1 260.7,53.7 260.8,54.8 260.6,56.2 261.6,56.8 262.3,57.5 262.4,58.6 263.5,59.1 264.7,59.6 265.3,60.4 265.6,61.4 265.9,62.4 266.5,63.2 267.2,64.0 267.7,64.9 267.9,65.9 267.9,67.0 268.1,68.1 268.6,68.9 269.1,69.8 269.2,70.9 270.1,71.6 271.2,72.2 271.7,73.1 271.9,74.1 271.7,75.3 271.6,76.4 272.0,77.3 272.5,78.2 273.3,79.0 274.2,79.7 274.1,80.8 274.6,81.7 275.3,82.6 275.0,83.7 274.9,84.8 275.4,85.7 275.6,86.7 275.9,87.7 276.5,88.6 276.9,89.5 277.4,90.4 277.2,91.5 276.7,92.7 277.1,93.6 278.0,94.4 278.6,95.3 278.6,96.3 278.2,97.5 278.1,98.6 278.8,99.4 279.6,100.2 280.0,101.2 280.1,102.2 280.5,103.1 280.9,104.1 280.9,105.1 281.4,106.0 282.3,106.9 282.5,107.8 282.4,108.9 282.2,110.0 281.8,111.1 281.8,112.2 283.1,112.9 284.0,113.7 283.6,114.8 283.5,115.9 283.5,116.9 283.3,118.0 284.1,118.9 284.9,119.7 284.7,120.8 284.3,121.9 284.3,123.0 285.4,123.7 286.4,124.5 286.6,125.5 286.5,126.6 286.0,127.7 286.0,128.8 286.8,129.6 287.5,130.5 287.9,131.4 288.1,132.4 287.8,133.5 287.4,134.7 288.4,135.4 289.9,136.1 290.1,137.1 290.0,138.1 290.7,139.0 290.9,140.0 290.3,141.2 290.8,142.1 292.0,142.8 292.4,143.7 291.9,144.9 291.4,146.1 291.5,147.2 292.0,148.1 292.7,148.9 292.6,150.0 292.6,151.1 293.1,152.0 293.9,152.7 294.8,153.5 295.1,154.4 294.7,155.7 294.8,156.8 296.2,157.3 297.2,157.9 297.6,158.8 297.5,160.0 297.2,161.3 297.8,162.1 298.6,162.8 299.2,163.6 299.9,164.4 300.6,165.2 300.8,166.2 301.4,167.0 302.1,167.8 302.6,168.7 303.0,169.6 303.6,170.4 304.1,171.3 304.4,172.3 305.5,172.7 306.8,173.0 307.1,174.0 307.6,174.9 308.1,175.8 308.6,176.7 309.1,177.6 309.5,178.7 310.4,179.2 311.6,179.5 312.3,180.2 313.0,180.9 313.7,181.6 314.7,182.0 315.5,182.5 316.1,183.4 316.8,184.2 317.5,184.9 318.1,185.8 318.8,186.6 319.5,187.2 320.2,188.1 321.3,188.3 322.6,188.1 323.3,188.8 323.9,189.8 324.9,190.1 326.1,190.0 326.8,190.9 327.3,192.0 328.4,192.1 329.8,191.5 330.9,191.5 331.8,191.9 332.5,192.7 333.2,193.9 333.9,194.9 334.8,195.3 336.0,195.1 336.9,195.3 337.8,196.0 338.9,196.0 340.0,195.6 341.0,195.5 342.0,195.7 343.0,196.0 343.9,196.5 344.9,196.5 346.0,196.0 347.0,196.0 348.0,196.5 349.0,196.7 350.0,196.7 351.0,197.0 352.0,197.5 353.0,197.4 354.0,197.2 355.1,197.3 356.0,197.0 357.0,196.2 358.0,196.6 359.2,197.2 360.1,196.6" stroke="#f01010"/>
</g>
<rect x="215.2" y="7.0" width="144.40000000000003" height="197.0" fill="none" stroke="#555" stroke-width="1"/>
<path d="M215.20,204.0 v-1.3 M215.20,7.0 v1.3 M220.98,204.0 v-1.3 M220.98,7.0 v1.3 M226.75,204.0 v-1.3 M226.75,7.0 v1.3 M232.53,204.0 v-1.3 M232.53,7.0 v1.3 M238.30,204.0 v-1.3 M238.30,7.0 v1.3 M244.08,204.0 v-1.3 M244.08,7.0 v1.3 M249.86,204.0 v-1.3 M249.86,7.0 v1.3 M255.63,204.0 v-1.3 M255.63,7.0 v1.3 M261.41,204.0 v-1.3 M261.41,7.0 v1.3 M267.18,204.0 v-1.3 M267.18,7.0 v1.3 M272.96,204.0 v-1.3 M272.96,7.0 v1.3 M278.74,204.0 v-1.3 M278.74,7.0 v1.3 M284.51,204.0 v-1.3 M284.51,7.0 v1.3 M290.29,204.0 v-1.3 M290.29,7.0 v1.3 M296.06,204.0 v-1.3 M296.06,7.0 v1.3 M301.84,204.0 v-1.3 M301.84,7.0 v1.3 M307.62,204.0 v-1.3 M307.62,7.0 v1.3 M313.39,204.0 v-1.3 M313.39,7.0 v1.3 M319.17,204.0 v-1.3 M319.17,7.0 v1.3 M324.94,204.0 v-1.3 M324.94,7.0 v1.3 M330.72,204.0 v-1.3 M330.72,7.0 v1.3 M336.50,204.0 v-1.3 M336.50,7.0 v1.3 M342.27,204.0 v-1.3 M342.27,7.0 v1.3 M348.05,204.0 v-1.3 M348.05,7.0 v1.3 M353.82,204.0 v-1.3 M353.82,7.0 v1.3 M359.60,204.0 v-1.3 M359.60,7.0 v1.3 M215.20,204.0 v-2.2 M215.20,7.0 v2.2 M244.08,204.0 v-2.2 M244.08,7.0 v2.2 M272.96,204.0 v-2.2 M272.96,7.0 v2.2 M301.84,204.0 v-2.2 M301.84,7.0 v2.2 M330.72,204.0 v-2.2 M330.72,7.0 v2.2 M359.60,204.0 v-2.2 M359.60,7.0 v2.2 M215.2,204.00 h2.2 M359.6,204.00 h-2.2 M215.2,196.12 h1.3 M359.6,196.12 h-1.3 M215.2,188.24 h1.3 M359.6,188.24 h-1.3 M215.2,180.36 h1.3 M359.6,180.36 h-1.3 M215.2,172.48 h1.3 M359.6,172.48 h-1.3 M215.2,164.60 h2.2 M359.6,164.60 h-2.2 M215.2,156.72 h1.3 M359.6,156.72 h-1.3 M215.2,148.84 h1.3 M359.6,148.84 h-1.3 M215.2,140.96 h1.3 M359.6,140.96 h-1.3 M215.2,133.08 h1.3 M359.6,133.08 h-1.3 M215.2,125.20 h2.2 M359.6,125.20 h-2.2 M215.2,117.32 h1.3 M359.6,117.32 h-1.3 M215.2,109.44 h1.3 M359.6,109.44 h-1.3 M215.2,101.56 h1.3 M359.6,101.56 h-1.3 M215.2,93.68 h1.3 M359.6,93.68 h-1.3 M215.2,85.80 h2.2 M359.6,85.80 h-2.2 M215.2,77.92 h1.3 M359.6,77.92 h-1.3 M215.2,70.04 h1.3 M359.6,70.04 h-1.3 M215.2,62.16 h1.3 M359.6,62.16 h-1.3 M215.2,54.28 h1.3 M359.6,54.28 h-1.3 M215.2,46.40 h2.2 M359.6,46.40 h-2.2 M215.2,38.52 h1.3 M359.6,38.52 h-1.3 M215.2,30.64 h1.3 M359.6,30.64 h-1.3 M215.2,22.76 h1.3 M359.6,22.76 h-1.3 M215.2,14.88 h1.3 M359.6,14.88 h-1.3 M215.2,7.00 h2.2 M359.6,7.00 h-2.2" stroke="#444" stroke-width="0.8" fill="none"/>
<rect x="306.5" y="12.0" width="47.69999999999999" height="66.8" fill="#fff" stroke="#555" stroke-width="0.9"/>
<line x1="310.6" y1="18.0" x2="331.3" y2="18.0" stroke="#c4b800" stroke-width="1.7"/>
<text x="333.6" y="21.3" font-size="8.1" fill="#444">Gold</text>
<line x1="310.6" y1="28.9" x2="331.3" y2="28.9" stroke="#1010f0" stroke-width="1.7"/>
<text x="333.6" y="32.2" font-size="8.1" fill="#444">1nm</text>
<line x1="310.6" y1="39.6" x2="331.3" y2="39.6" stroke="#10f0f0" stroke-width="1.7"/>
<text x="333.6" y="42.9" font-size="8.1" fill="#444">3nm</text>
<line x1="310.6" y1="50.2" x2="331.3" y2="50.2" stroke="#10e010" stroke-width="1.7"/>
<text x="333.6" y="53.5" font-size="8.1" fill="#444">5nm</text>
<line x1="310.6" y1="60.8" x2="331.3" y2="60.8" stroke="#f4f000" stroke-width="1.7"/>
<text x="333.6" y="64.1" font-size="8.1" fill="#444">7nm</text>
<line x1="310.6" y1="71.4" x2="331.3" y2="71.4" stroke="#f01010" stroke-width="1.7"/>
<text x="333.6" y="74.7" font-size="8.1" fill="#444">9nm</text>
<g font-weight="normal" font-size="9.8" fill="#111" stroke="#111" stroke-width="0.3"><text x="29.3" y="205.7" text-anchor="end">0</text><text x="213.2" y="206.7" text-anchor="end">0</text><text x="29.3" y="166.3" text-anchor="end">0.2</text><text x="213.2" y="167.3" text-anchor="end">0.2</text><text x="29.3" y="126.8" text-anchor="end">0.4</text><text x="213.2" y="127.9" text-anchor="end">0.4</text><text x="29.3" y="87.4" text-anchor="end">0.6</text><text x="213.2" y="88.5" text-anchor="end">0.6</text><text x="29.3" y="47.9" text-anchor="end">0.8</text><text x="213.2" y="49.1" text-anchor="end">0.8</text><text x="29.3" y="8.5" text-anchor="end">1</text><text x="213.2" y="9.7" text-anchor="end">1</text><text x="31.3" y="214.2" text-anchor="middle">36</text><text x="79.7" y="214.2" text-anchor="middle">35</text><text x="128.1" y="214.2" text-anchor="middle">34</text><text x="176.5" y="214.2" text-anchor="middle">33</text><text x="215.2" y="214.4" text-anchor="middle">4</text><text x="244.1" y="214.4" text-anchor="middle">3</text><text x="273.0" y="214.4" text-anchor="middle">2</text><text x="301.8" y="214.4" text-anchor="middle">1</text><text x="330.7" y="214.4" text-anchor="middle">0</text><text x="359.6" y="214.4" text-anchor="middle">-1</text></g>
<g font-weight="normal" fill="#111" stroke="#111" stroke-width="0.38"><text x="103.2" y="225.4" text-anchor="middle" font-size="9.55">Electron Energy (eV)</text><text x="286.8" y="225.7" text-anchor="middle" font-size="9.55">Electron Energy (eV)</text><text transform="translate(9.6,103.5) rotate(-90)" text-anchor="middle" font-size="9.85">Intensity (a.u.)</text><text transform="translate(194.3,105.2) rotate(-90)" text-anchor="middle" font-size="9.85">Intensity (a.u.)</text></g>
<g font-size="13.3" fill="#222"><text x="1.4" y="10.7">(a)</text><text x="186.7" y="10.6">(b)</text><text x="37.2" y="257.2" font-size="13">(c)</text></g>
<line x1="85.7" y1="245.0" x2="114.5" y2="245.0" stroke="#bdbdbd" stroke-width="1.0"/>
<line x1="116" y1="343.2" x2="302.5" y2="343.2" stroke="#bdbdbd" stroke-width="1.0"/>
<line x1="117.5" y1="357.0" x2="132.5" y2="357.0" stroke="#bdbdbd" stroke-width="1.0"/>
<line x1="259.3" y1="343.2" x2="259.3" y2="361.5" stroke="#bdbdbd" stroke-width="1.0"/>
<line x1="114.5" y1="245.0" x2="300.2" y2="245.0" stroke="#222" stroke-width="1.3"/>
<line x1="66.9" y1="261.8" x2="114.5" y2="261.8" stroke="#222" stroke-width="1.3"/>
<line x1="64.0" y1="343.2" x2="114.5" y2="343.2" stroke="#222" stroke-width="1.3"/>
<path d="M114.5,244.4 L114.5,355.5 Q114.5,361.6 120.6,361.6 L238,361.6 C251,361.6 259.3,359 259.3,343.2 L259.3,327 C259.3,313 266,309.9 282,309.9 L300.2,309.9" fill="none" stroke="#222" stroke-width="1.3"/>
<path d="M114.5,292.8 Q114.5,298.6 120.8,298.6 L236,298.6 C251.5,298.6 258.8,294 259.5,280.5" fill="none" stroke="#222" stroke-width="1.3"/>
<line x1="259.5" y1="244.4" x2="259.5" y2="327" stroke="#222" stroke-width="1.3"/>
<line x1="103.3" y1="245.6" x2="103.3" y2="261.0" stroke="#222" stroke-width="1.25"/>
<path d="M100.50,249.80 Q102.60,247.40 103.30,245.60 Q104.00,247.40 106.10,249.80" fill="none" stroke="#222" stroke-width="1.2" stroke-linecap="round"/>
<path d="M100.50,256.80 Q102.60,259.20 103.30,261.00 Q104.00,259.20 106.10,256.80" fill="none" stroke="#222" stroke-width="1.2" stroke-linecap="round"/>
<line x1="88.8" y1="262.4" x2="88.8" y2="342.6" stroke="#222" stroke-width="1.25"/>
<path d="M85.40,267.70 Q88.10,264.20 88.80,262.40 Q89.50,264.20 92.20,267.70" fill="none" stroke="#222" stroke-width="1.2" stroke-linecap="round"/>
<path d="M85.40,337.30 Q88.10,340.80 88.80,342.60 Q89.50,340.80 92.20,337.30" fill="none" stroke="#222" stroke-width="1.2" stroke-linecap="round"/>
<line x1="158.3" y1="245.6" x2="158.3" y2="298.0" stroke="#222" stroke-width="1.25"/>
<path d="M154.90,250.90 Q157.60,247.40 158.30,245.60 Q159.00,247.40 161.70,250.90" fill="none" stroke="#222" stroke-width="1.2" stroke-linecap="round"/>
<path d="M154.90,292.70 Q157.60,296.20 158.30,298.00 Q159.00,296.20 161.70,292.70" fill="none" stroke="#222" stroke-width="1.2" stroke-linecap="round"/>
<line x1="158.3" y1="299.2" x2="158.3" y2="361.0" stroke="#222" stroke-width="1.25"/>
<path d="M154.90,304.50 Q157.60,301.00 158.30,299.20 Q159.00,301.00 161.70,304.50" fill="none" stroke="#222" stroke-width="1.2" stroke-linecap="round"/>
<path d="M154.90,355.70 Q157.60,359.20 158.30,361.00 Q159.00,359.20 161.70,355.70" fill="none" stroke="#222" stroke-width="1.2" stroke-linecap="round"/>
<line x1="189.2" y1="245.6" x2="189.2" y2="361.0" stroke="#222" stroke-width="1.25"/>
<path d="M185.80,250.90 Q188.50,247.40 189.20,245.60 Q189.90,247.40 192.60,250.90" fill="none" stroke="#222" stroke-width="1.2" stroke-linecap="round"/>
<path d="M185.80,355.70 Q188.50,359.20 189.20,361.00 Q189.90,359.20 192.60,355.70" fill="none" stroke="#222" stroke-width="1.2" stroke-linecap="round"/>
<line x1="290.0" y1="245.6" x2="290.0" y2="309.3" stroke="#222" stroke-width="1.25"/>
<path d="M286.60,250.90 Q289.30,247.40 290.00,245.60 Q290.70,247.40 293.40,250.90" fill="none" stroke="#222" stroke-width="1.2" stroke-linecap="round"/>
<path d="M286.60,304.00 Q289.30,307.50 290.00,309.30 Q290.70,307.50 293.40,304.00" fill="none" stroke="#222" stroke-width="1.2" stroke-linecap="round"/>
<line x1="290.0" y1="310.5" x2="290.0" y2="342.6" stroke="#222" stroke-width="1.25"/>
<path d="M286.60,315.80 Q289.30,312.30 290.00,310.50 Q290.70,312.30 293.40,315.80" fill="none" stroke="#222" stroke-width="1.2" stroke-linecap="round"/>
<path d="M286.60,337.30 Q289.30,340.80 290.00,342.60 Q290.70,340.80 293.40,337.30" fill="none" stroke="#222" stroke-width="1.2" stroke-linecap="round"/>
<line x1="216.6" y1="343.8" x2="216.6" y2="361.0" stroke="#222" stroke-width="1.25"/>
<path d="M213.80,348.00 Q215.90,345.60 216.60,343.80 Q217.30,345.60 219.40,348.00" fill="none" stroke="#222" stroke-width="1.2" stroke-linecap="round"/>
<path d="M213.80,356.80 Q215.90,359.20 216.60,361.00 Q217.30,359.20 219.40,356.80" fill="none" stroke="#222" stroke-width="1.2" stroke-linecap="round"/>
<line x1="122.4" y1="347.0" x2="122.4" y2="356.6" stroke="#222" stroke-width="1.2"/>
<path d="M120.10,352.60 Q121.70,354.80 122.40,356.60 Q123.10,354.80 124.70,352.60" fill="none" stroke="#222" stroke-width="1.2" stroke-linecap="round"/>
<g fill="#222"><text x="67.6" y="257.6" text-anchor="start" font-size="10.0">0.35eV</text><text x="53.6" y="282.4" text-anchor="start" font-size="10.0">5.10eV</text><text x="123.4" y="270.1" text-anchor="start" font-size="10.0">2.20eV</text><text x="191.1" y="270.1" text-anchor="start" font-size="10.0">5.80eV</text><text x="292.3" y="269.4" text-anchor="start" font-size="10.0">4.15eV</text><text x="196.4" y="294.2" text-anchor="start" font-size="9.7">LUMO</text><text x="292.0" y="329.4" text-anchor="start" font-size="10.0">1.30eV</text><text x="234.0" y="339.9" text-anchor="start" font-size="10.0">Ef</text><text x="124.6" y="353.4" text-anchor="start" font-size="9.7">0.10eV</text><text x="219.0" y="356.8" text-anchor="start" font-size="9.8">0.35eV</text><text x="82.3" y="358.1" text-anchor="start" font-size="10.0">ITO</text><text x="277.2" y="356.2" text-anchor="start" font-size="10.0">Al</text><text x="177.1" y="373.2" text-anchor="middle" font-size="9.5">HOMO</text><text x="177.3" y="385.0" text-anchor="middle" font-size="10.0">PVK</text></g></svg>
</body></html>
